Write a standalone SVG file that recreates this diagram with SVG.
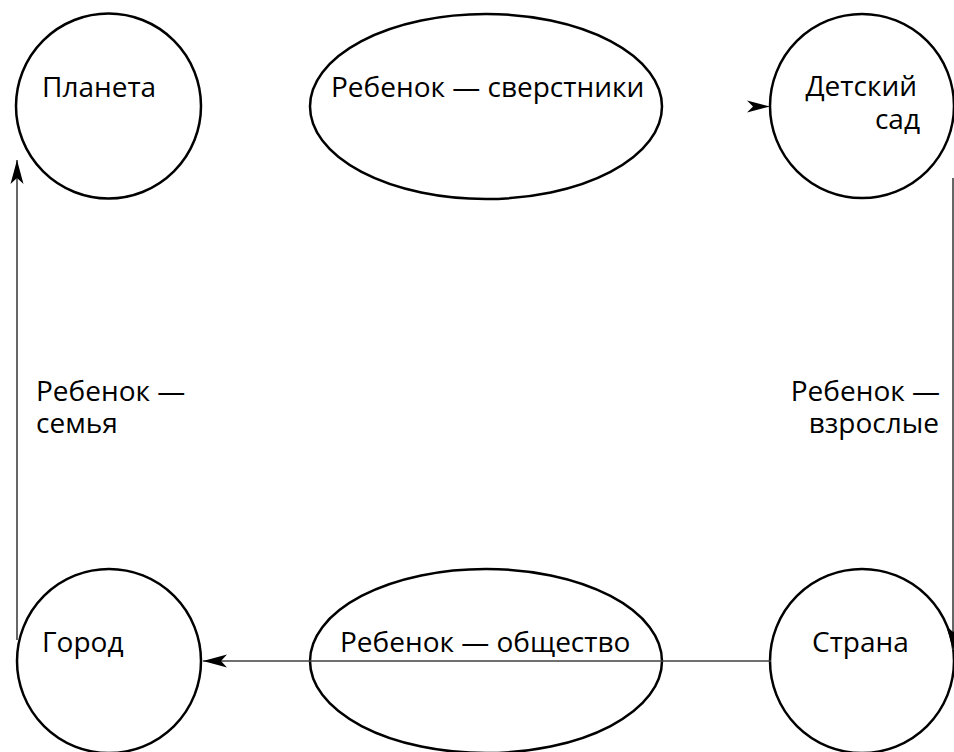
<svg xmlns="http://www.w3.org/2000/svg" width="954" height="752" viewBox="0 0 954 752">
<style>
.node{fill:#fff;stroke:#000;stroke-width:2.5}
.lbl{font-family:"Open Sans","Noto Sans","DejaVu Sans",sans-serif;font-size:28px;fill:#000}
.end{text-anchor:end}
.conn{fill:none;stroke:#404040;stroke-width:1.6}
.head{fill:#000}
</style>
<defs>
<marker id="arr" markerUnits="userSpaceOnUse" markerWidth="30" markerHeight="16" viewBox="-26 -8 30 16" refX="0" refY="0" orient="auto">
<path class="head" d="M0,0 L-24,-6.5 L-18,0 L-24,6.5 Z"/>
</marker>
</defs>
<rect width="954" height="752" fill="#fff"/>
<g id="planeta">
<circle class="node" cx="108.5" cy="106" r="92.5"/>
<text class="lbl" x="42" y="97">Планета</text>
</g>
<g id="rebenok-sverstniki">
<ellipse class="node" cx="486" cy="106.5" rx="176" ry="92.5"/>
<text class="lbl" x="331" y="97">Ребенок — сверстники</text>
</g>
<g id="detsky-sad">
<circle class="node" cx="862" cy="106" r="92"/>
<text class="lbl end" x="917" y="96">Детский</text>
<text class="lbl end" x="920" y="129">сад</text>
</g>
<g id="gorod">
<circle class="node" cx="109" cy="661" r="92"/>
<text class="lbl" x="42" y="652">Город</text>
</g>
<g id="rebenok-obshchestvo">
<ellipse class="node" cx="486" cy="661" rx="176" ry="92"/>
</g>
<g id="strana">
<circle class="node" cx="862" cy="661" r="92"/>
<text class="lbl" x="812" y="652">Страна</text>
</g>
<g id="connectors">
<path class="conn" d="M771,661 L203,661" marker-end="url(#arr)"/>
<path class="conn" d="M17,640 L17,160" marker-end="url(#arr)"/>
<path class="conn" d="M953,178 L953,650" marker-end="url(#arr)"/>
<path class="head" d="M770,106.5 L747,100.5 L753,106.5 L747,112.5 Z"/>
</g>
<g id="labels">
<text class="lbl" x="340" y="652">Ребенок — общество</text>
<text class="lbl" x="36" y="401">Ребенок —</text>
<text class="lbl" x="36" y="433">семья</text>
<text class="lbl end" x="940" y="401">Ребенок —</text>
<text class="lbl end" x="939" y="433">взрослые</text>
</g>
</svg>
